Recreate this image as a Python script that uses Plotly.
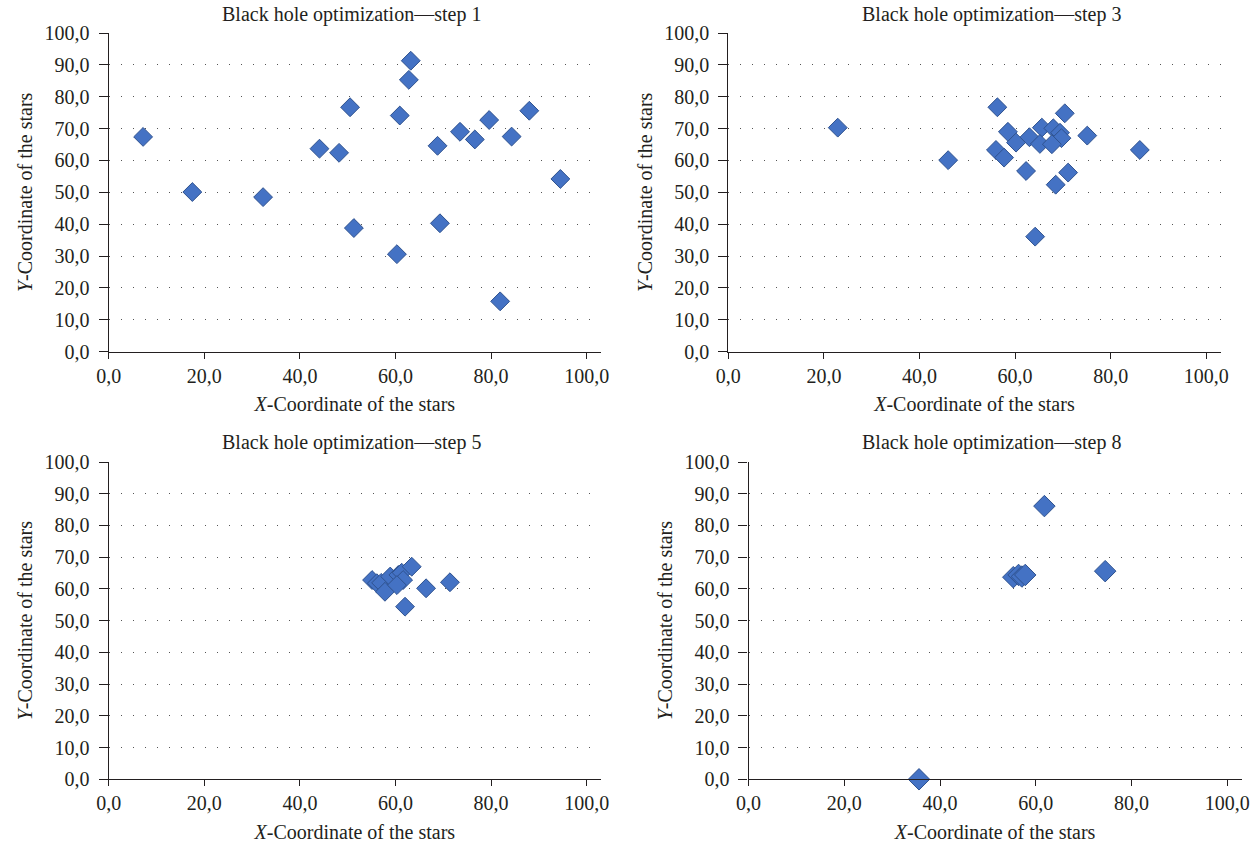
import plotly.graph_objects as go

# ---- data ----
step1_x = [7.2, 17.5, 32.3, 44.1, 48.2, 50.5, 51.3, 60.3, 60.9, 62.8, 63.2, 68.8, 69.3, 73.5, 76.6, 79.6, 81.9, 84.3, 88.0, 94.5]
step1_y = [67.4, 50.1, 48.5, 63.7, 62.4, 76.7, 38.8, 30.6, 74.1, 85.3, 91.3, 64.6, 40.3, 69.0, 66.6, 72.7, 15.8, 67.5, 75.6, 54.2]

step3_x = [22.9, 46.0, 56.3, 70.4, 58.5, 65.6, 68.0, 69.4, 69.7, 63.0, 60.2, 65.2, 67.7, 75.1, 56.0, 57.7, 62.3, 71.1, 68.5, 64.2, 86.1]
step3_y = [70.3, 60.1, 76.7, 74.8, 69.0, 70.3, 70.1, 68.7, 67.0, 67.3, 65.6, 65.2, 65.1, 67.8, 63.3, 60.9, 56.7, 56.2, 52.4, 36.1, 63.3]

step5_x = [55.1, 56.1, 57.0, 57.8, 58.9, 60.6, 61.3, 61.6, 60.3, 63.4, 66.4, 71.4, 62.0]
step5_y = [62.8, 61.8, 61.9, 59.1, 63.9, 64.4, 65.1, 62.8, 61.2, 67.0, 60.2, 62.1, 54.4]

step8_x = [61.8, 74.5, 55.3, 56.4, 57.1, 57.8, 35.6]
step8_y = [86.1, 65.6, 63.7, 64.4, 63.9, 64.4, 0.0]

titles = ["Black hole optimization\u2014step 1", "Black hole optimization\u2014step 3",
          "Black hole optimization\u2014step 5", "Black hole optimization\u2014step 8"]
x_ticks = [0, 20, 40, 60, 80, 100]
y_ticks = [0, 10, 20, 30, 40, 50, 60, 70, 80, 90, 100]
x_title = "<i>X</i>-Coordinate of the stars"
y_title = "<i>Y</i>-Coordinate of the stars"

# ---- layout geometry (pixels in the 1260x850 window) ----
W, H = 1260, 850
# (x_left, x_right, y_top, y_bottom)
boxes = [
    (108.7, 601.0, 33.0, 351.7),
    (728.3, 1220.6, 33.0, 351.7),
    (108.7, 601.0, 462.0, 779.3),
    (748.6, 1241.6, 462.0, 779.3),
]
title_pos = [(351, 14), (991, 14), (351, 443), (991, 443)]
marker_sizes = [14.5, 14.5, 14.5, 16.5]

FONT = "Liberation Serif"
FS = 20
TXT = "#231f20"

fig = go.Figure()
series = [(step1_x, step1_y), (step3_x, step3_y), (step5_x, step5_y), (step8_x, step8_y)]
for i, (xs, ys) in enumerate(series):
    n = "" if i == 0 else str(i + 1)
    fig.add_trace(go.Scatter(
        x=xs, y=ys, mode="markers", xaxis="x" + n, yaxis="y" + n, showlegend=False,
        marker=dict(symbol="diamond", size=marker_sizes[i], color="#4472C4",
                    line=dict(color="#2F528F", width=1)),
        cliponaxis=False,
    ))

layout = dict(
    width=W, height=H, margin=dict(l=0, r=0, t=0, b=0),
    paper_bgcolor="white", plot_bgcolor="white",
    separators=",.",
    font=dict(family=FONT, size=FS, color=TXT),
    showlegend=False,
)
annotations = []
for i, (x0, x1, y0, y1) in enumerate(boxes):
    n = "" if i == 0 else str(i + 1)
    layout["xaxis" + n] = dict(
        domain=[x0 / W, x1 / W], range=[0, 103], anchor="y" + n,
        tickvals=x_ticks, tickformat=".1f",
        showline=True, linecolor="#231f20", linewidth=1.3,
        ticks="outside", ticklen=6, tickcolor="#231f20", tickwidth=1.3,
        showgrid=False, zeroline=False, automargin=False,
        tickfont=dict(family=FONT, size=FS, color=TXT),
        title=dict(text=x_title, standoff=11, font=dict(family=FONT, size=FS, color=TXT)),
    )
    layout["yaxis" + n] = dict(
        domain=[1 - y1 / H, 1 - y0 / H], range=[0, 100], anchor="x" + n,
        tickvals=y_ticks, tickformat=".1f",
        showline=True, linecolor="#231f20", linewidth=1.3,
        ticks="outside", ticklen=9, tickcolor="#231f20", tickwidth=1.3,
        ticklabelstandoff=5,
        showgrid=True, gridcolor="#555555", gridwidth=1, griddash="1px,11px",
        zeroline=False, automargin=False,
        tickfont=dict(family=FONT, size=FS, color=TXT),
        title=dict(text=y_title, standoff=6, font=dict(family=FONT, size=FS, color=TXT)),
    )
    tx, ty = title_pos[i]
    annotations.append(dict(
        text=titles[i], x=tx / W, y=1 - ty / H, xref="paper", yref="paper",
        xanchor="center", yanchor="middle", showarrow=False,
        font=dict(family=FONT, size=FS, color=TXT),
    ))
layout["annotations"] = annotations
fig.update_layout(**layout)

fig.write_html("out.html",
               config={"displayModeBar": False},
               post_script="document.body.style.margin='0px';document.body.style.overflow='hidden';")
